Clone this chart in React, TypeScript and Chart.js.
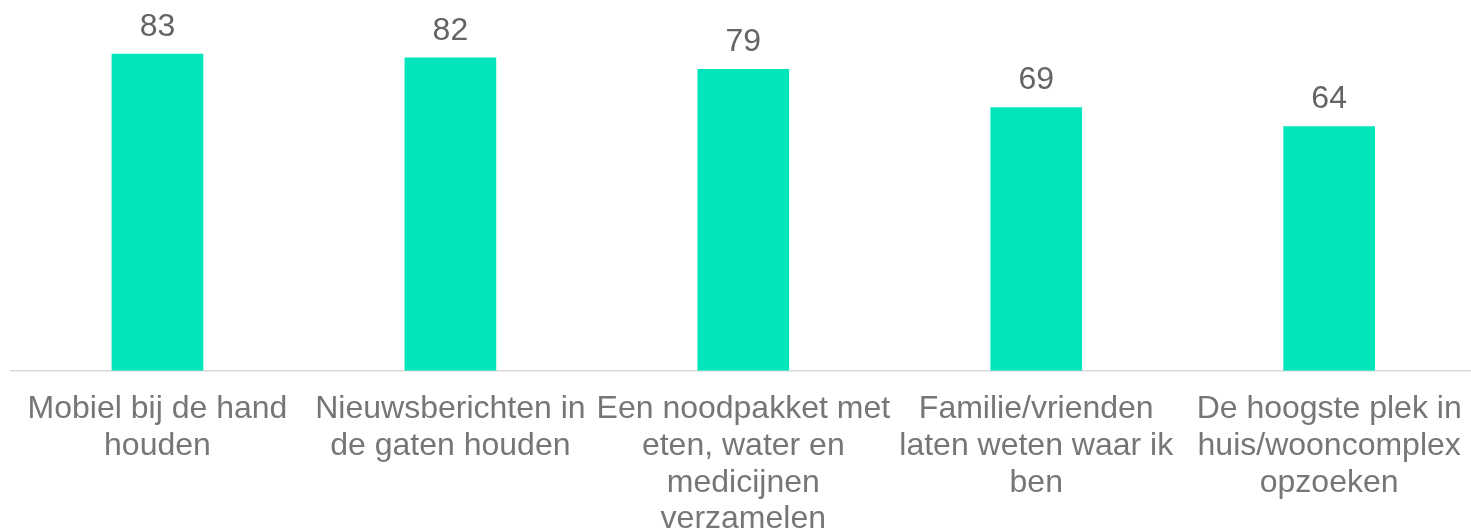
import React, { useEffect, useRef } from "react";
import { Chart, registerables } from "chart.js";

Chart.register(...registerables);

const categories: string[][] = [
  ["Mobiel bij de hand", "houden"],
  ["Nieuwsberichten in", "de gaten houden"],
  ["Een noodpakket met", "eten, water en", "medicijnen", "verzamelen"],
  ["Familie/vrienden", "laten weten waar ik", "ben"],
  ["De hoogste plek in", "huis/wooncomplex", "opzoeken"],
];
const values: number[] = [83, 82, 79, 69, 64];

const FONT = "'Liberation Sans', Arial, sans-serif";

const valueLabels = {
  id: "valueLabels",
  afterDatasetsDraw(chart: any) {
    const ctx = chart.ctx;
    const meta = chart.getDatasetMeta(0);
    ctx.save();
    ctx.font = `32px ${FONT}`;
    ctx.fillStyle = "#646464";
    ctx.textAlign = "center";
    ctx.textBaseline = "alphabetic";
    meta.data.forEach((bar: any, i: number) => {
      ctx.fillText(String(values[i]), bar.x, bar.y - 18);
    });
    ctx.restore();
  },
};

export default function App() {
  const ref = useRef<HTMLCanvasElement | null>(null);
  useEffect(() => {
    if (!ref.current) return;
    const chart = new Chart(ref.current, {
      type: "bar",
      data: {
        labels: categories,
        datasets: [
          {
            data: values,
            backgroundColor: "#00E5BC",
            borderWidth: 0,
            barPercentage: 1,
            categoryPercentage: 0.313,
          },
        ],
      },
      options: {
        responsive: false,
        animation: false,
        devicePixelRatio: 1,
        layout: { padding: { top: 27, left: 11, right: 3, bottom: 0 } },
        plugins: { legend: { display: false }, tooltip: { enabled: false } },
        scales: {
          y: { display: false, min: 0, max: 90 },
          x: {
            grid: { display: false, drawTicks: false },
            border: { display: true, color: "#d9d9d9", width: 1.5 },
            ticks: {
              color: "#767676",
              font: { family: FONT, size: 32, lineHeight: 1.15 },
              padding: 20,
              maxRotation: 0,
              autoSkip: false,
            },
          },
        },
      },
      plugins: [valueLabels],
    });
    return () => chart.destroy();
  }, []);
  return (
    <div
      style={{
        position: "fixed",
        left: 0,
        top: 0,
        width: 1471,
        height: 530,
        overflow: "hidden",
        background: "#fff",
      }}
    >
      <canvas ref={ref} width={1482} height={558} style={{ display: "block" }} />
    </div>
  );
}
